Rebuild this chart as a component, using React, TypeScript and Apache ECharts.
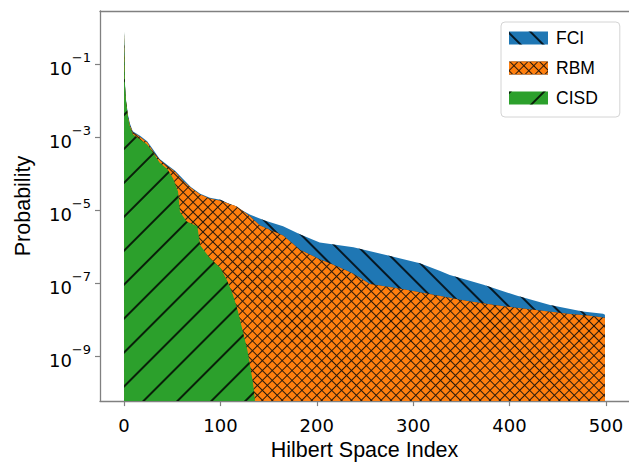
import React, { useEffect, useRef } from 'react';
import * as echarts from 'echarts';

const seriesNames = ['FCI', 'RBM', 'CISD'];
// RBM's base fill is the dark hatch colour; its orange comes from the decal tiles
const seriesColors = ['#1f77b4', '#2a1a0c', '#2ca02c'];
const xTicks = [0, 100, 200, 300, 400, 500];
const yTickExponents = [-9, -7, -5, -3, -1];

// Sorted probabilities as log10(p) at chosen indices
const fciIndex = [0, 1, 2, 4, 6, 9, 17, 24, 30, 37, 45, 53, 61, 69, 79, 89, 100, 113, 131, 146, 165, 183, 203, 238, 273, 307, 328, 338, 373, 408, 442, 476, 497, 499];
const fciLog10P = [-0.12, -1.56, -1.97, -2.38, -2.62, -2.84, -2.97, -3.11, -3.33, -3.6, -3.76, -3.92, -4.14, -4.36, -4.55, -4.66, -4.71, -4.87, -5.12, -5.28, -5.44, -5.66, -5.88, -6.01, -6.23, -6.45, -6.66, -6.77, -7.04, -7.34, -7.59, -7.77, -7.83, -7.86];

const rbmIndex = [0, 1, 2, 4, 6, 9, 17, 24, 30, 37, 45, 53, 61, 69, 79, 89, 100, 117, 131, 141, 165, 183, 203, 221, 238, 255, 287, 321, 356, 390, 425, 460, 481, 499];
const rbmLog10P = [-0.12, -1.62, -2.02, -2.43, -2.67, -2.86, -3.0, -3.14, -3.38, -3.62, -3.79, -3.95, -4.19, -4.38, -4.57, -4.68, -4.74, -4.9, -5.17, -5.42, -5.69, -6.09, -6.34, -6.53, -6.74, -7.02, -7.15, -7.31, -7.48, -7.61, -7.72, -7.83, -7.88, -7.94];

const cisdIndex = [0, 1, 2, 4, 6, 9, 17, 24, 30, 37, 45, 51, 56, 58, 65, 76, 79, 89, 100, 107, 113, 118, 124, 128, 131, 134, 137];
const cisdLog10P = [-0.12, -1.6, -2.0, -2.45, -2.7, -2.92, -3.07, -3.2, -3.42, -3.7, -3.88, -4.14, -4.49, -5.04, -5.31, -5.44, -5.96, -6.31, -6.58, -6.93, -7.31, -7.75, -8.4, -8.83, -9.29, -9.76, -10.5];

const X_MIN = -24.95;
const X_MAX = 523.95;
const Y_MIN = -10.22;
const Y_MAX = 0.45;

const tickFont = 'DejaVu Sans';
const nameFont = 'Liberation Sans';
const spineColor = '#808080';

function pairs(xs: number[], ys: number[]) {
  return xs.map((x, k) => [x, ys[k]]);
}

const decals: any[] = [
  {
    symbol: 'rect', symbolSize: 1, symbolKeepAspect: false,
    color: 'rgba(0,0,0,0.8)', dashArrayX: [1, 0], dashArrayY: [2, 14],
    rotation: Math.PI / 4,
  },
  {
    symbol: 'rect', symbolSize: 1, symbolKeepAspect: false,
    color: '#ff7f0e',
    dashArrayX: [6, 1], dashArrayY: [6, 1], rotation: Math.PI / 4,
  },
  {
    symbol: 'rect', symbolSize: 1, symbolKeepAspect: false,
    color: 'rgba(0,0,0,0.8)', dashArrayX: [1, 0], dashArrayY: [2, 22],
    rotation: -Math.PI / 4,
  },
];

export default function App() {
  const ref = useRef<HTMLDivElement>(null);
  useEffect(() => {
    document.body.style.margin = '0';
    const chart = echarts.init(ref.current!, undefined, { renderer: 'svg' });
    const datasets = [pairs(fciIndex, fciLog10P), pairs(rbmIndex, rbmLog10P), pairs(cisdIndex, cisdLog10P)];
    const series = seriesNames.map((name, k) => ({
      name,
      type: 'line',
      data: datasets[k],
      showSymbol: false,
      symbol: 'none',
      color: seriesColors[k],
      lineStyle: { width: 0, color: seriesColors[k], decal: decals[k] },
      itemStyle: { color: seriesColors[k], decal: decals[k] },
      areaStyle: { color: seriesColors[k], opacity: 1, origin: 'start' },
      emphasis: { disabled: true },
      silent: true,
      z: 2 + k,
    }));
    chart.setOption({
      animation: false,
      backgroundColor: '#ffffff',
      grid: { left: 100, right: 0, top: 11, bottom: 62 },
      legend: {
        data: seriesNames,
        orient: 'vertical',
        left: 501,
        top: 22,
        icon: 'rect',
        itemWidth: 39,
        itemHeight: 13,
        itemGap: 12,
        padding: [7, 22, 10, 8],
        backgroundColor: 'rgba(255,255,255,0.85)',
        borderColor: '#d4d4d4',
        borderWidth: 1,
        borderRadius: 4,
        selectedMode: false,
        textStyle: { fontFamily: nameFont, fontSize: 17.5, color: '#000', padding: [0, 0, 0, 3] },
      },
      xAxis: [
        {
          type: 'value',
          min: X_MIN,
          max: X_MAX,
          name: 'Hilbert Space Index',
          nameLocation: 'middle',
          nameGap: 37,
          nameTextStyle: { fontFamily: nameFont, fontSize: 21.5, color: '#000' },
          axisLine: { show: true, onZero: false, lineStyle: { color: spineColor, width: 1.3 } },
          axisTick: { show: true, length: 5, customValues: xTicks, lineStyle: { color: spineColor, width: 1.2 } },
          axisLabel: { customValues: xTicks, margin: 15, fontFamily: tickFont, fontSize: 18, color: '#000' },
          splitLine: { show: false },
        },
        {
          type: 'value',
          position: 'top',
          min: X_MIN,
          max: X_MAX,
          axisLine: { show: true, onZero: false, lineStyle: { color: spineColor, width: 1.3 } },
          axisTick: { show: false },
          axisLabel: { show: false },
          splitLine: { show: false },
        },
      ],
      yAxis: {
        type: 'value',
        min: Y_MIN,
        max: Y_MAX,
        name: 'Probability',
        nameLocation: 'middle',
        nameGap: 66,
        nameTextStyle: { fontFamily: nameFont, fontSize: 21.5, color: '#000' },
        axisLine: { show: true, onZero: false, lineStyle: { color: spineColor, width: 1.3 } },
        axisTick: { show: true, length: 5, customValues: yTickExponents, lineStyle: { color: spineColor, width: 1.2 } },
        axisLabel: {
          customValues: yTickExponents,
          margin: 9,
          formatter: (v: number) => `{b|10}{s|\u2212${Math.abs(Math.round(v))}}`,
          rich: {
            b: { fontFamily: tickFont, fontSize: 18, color: '#000', lineHeight: 26, verticalAlign: 'bottom' },
            s: { fontFamily: tickFont, fontSize: 13, color: '#000', lineHeight: 16, verticalAlign: 'top' },
          },
        },
        splitLine: { show: false },
      },
      series,
    });
    return () => chart.dispose();
  }, []);
  return <div ref={ref} style={{ position: 'absolute', left: 0, top: 0, width: 629, height: 466 }} />;
}
